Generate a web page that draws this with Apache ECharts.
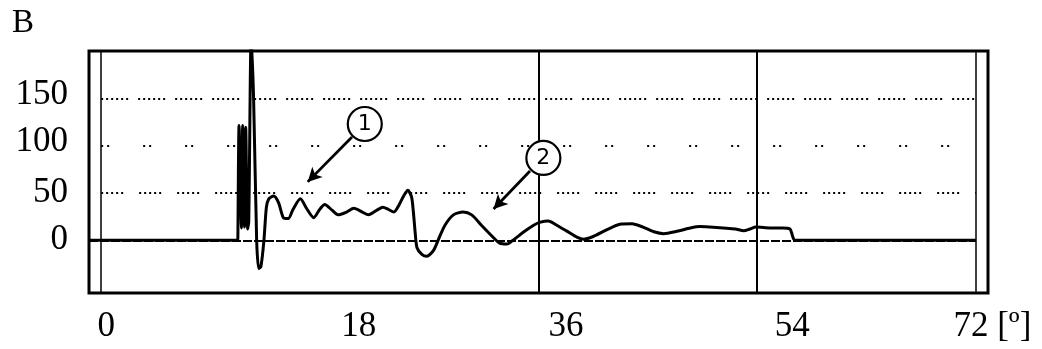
<!DOCTYPE html>
<html>
<head>
<meta charset="utf-8">
<script src="https://cdn.jsdelivr.net/npm/echarts@6/dist/echarts.min.js"></script>
<style>
  html, body { margin: 0; padding: 0; background: #fff; }
  #chart { width: 1042px; height: 349px; }
</style>
</head>
<body>
<div id="chart"></div>
<script>
// Recorded trace: angle in degrees, amplitude in B units
const angle = [
  -1, 11.25, 11.3, 11.35, 11.55, 11.65, 11.8, 11.9, 12.05, 12.15, 12.35, 12.55, 12.8, 12.97, 13.15, 13.4, 13.6, 13.8,
  14.2, 14.6, 15.0, 15.4, 15.8, 16.4, 16.9, 17.5, 18.0, 18.4, 19.0, 19.5, 20.2, 20.8, 21.5,
  22.0, 22.7, 23.2, 23.6, 24.1, 24.5, 24.9, 25.25, 25.55, 25.7, 25.85, 26.0, 26.4, 26.8, 27.35,
  27.8, 28.3, 29.0, 29.8, 30.5, 31.3, 32.2, 32.8, 33.4, 33.9, 34.8, 35.6, 36.1, 36.8, 37.5,
  38.3, 39.2, 39.7, 40.5, 41.6, 42.7, 43.7, 44.6, 45.5, 46.3, 47.4, 48.5, 49.3, 50.1, 51.2,
  52.2, 52.9, 53.4, 53.9, 55.1, 56.1, 56.7, 56.9, 57.1, 72
];
const amplitude = [
  0, 0, 0, 122, 13, 122, 14, 120, 12, 20, 215, 150, 0, -30, -28, 0, 35, 44,
  47, 40, 24, 23, 33, 44, 34, 24, 33, 38, 32, 27, 30, 34, 30,
  27, 32, 35, 33, 30, 37, 47, 53, 46, 30, 8, -8, -15, -17, -11,
  2, 16, 27, 30, 27, 16, 4, -3, -4, 0, 9, 16, 19, 20.5, 16,
  10, 3, 1, 4, 11, 17, 17.5, 14, 9, 7, 9.5, 13, 14.5, 14, 13,
  12, 10, 12, 14, 13, 13, 12, 5, 0, 0
];

// Axis ticks
const xTicks = [0, 18, 36, 54, 72];
const yTicks = [0, 50, 100, 150];
const xUnit = '[º]';

// Reference lines of the scope screen
const verticalLines = [0, 36, 54, 72];
const levelLines = [50, 100, 150];

// Callouts: label, circle centre, arrow start, arrow tip
const calloutLabels = ['1', '2'];
const calloutCentres = [[21.7, 123.5], [36.4, 87.4]];
const arrowStarts = [[20.65, 109.7], [35.3, 73.6]];
const arrowTips = [[17.0, 62], [32.3, 33.2]];

const serif = '"Liberation Serif", "Times New Roman", serif';
const ink = '#000';

// Label nudges (px) for the printed scale under the frame
const xLabelPad = { 0: 10, 18: 78, 36: 55, 54: 70, 72: 33 };
const yLabelPad = { 0: 0, 50: 0, 100: 8, 150: 8 };

const xRich = {};
xTicks.forEach(function (t) {
  xRich['x' + t] = { fontFamily: serif, fontSize: 35, color: ink, padding: [0, 0, 0, xLabelPad[t]] };
});
const yRich = {};
yTicks.forEach(function (t) {
  yRich['y' + t] = { fontFamily: serif, fontSize: 35, color: ink, padding: [0, 0, yLabelPad[t], 0] };
});

const dotPatterns = {
  50: [2, 3, 2, 3, 2, 3, 2, 3, 2, 16],
  100: [2, 4, 2, 34],
  150: [2, 3, 2, 3, 2, 3, 2, 3, 2, 3, 2, 10]
};

const chart = echarts.init(document.getElementById('chart'), null, { renderer: 'canvas' });

chart.setOption({
  animation: false,
  backgroundColor: '#fff',
  title: {
    text: 'B',
    left: 7,
    top: 2,
    textStyle: { fontFamily: serif, fontSize: 33, fontWeight: 'normal', color: ink }
  },
  grid: {
    left: 89, right: 54, top: 51, bottom: 56,
    show: true, borderColor: ink, borderWidth: 3, backgroundColor: 'transparent'
  },
  xAxis: {
    type: 'value', min: -1, max: 73,
    axisLine: { show: false }, axisTick: { show: false }, splitLine: { show: false },
    axisLabel: {
      customValues: xTicks,
      margin: 16,
      formatter: function (v) {
        const txt = v === 72 ? v + ' ' + xUnit : String(v);
        return '{x' + v + '|' + txt + '}';
      },
      rich: xRich
    }
  },
  yAxis: {
    type: 'value', min: -56, max: 201,
    axisLine: { show: false }, axisTick: { show: false }, splitLine: { show: false },
    axisLabel: {
      customValues: yTicks,
      margin: 21,
      formatter: function (v) { return '{y' + v + '|' + v + '}'; },
      rich: yRich
    }
  },
  series: [
    {
      name: 'screen',
      type: 'line',
      data: [],
      silent: true,
      markLine: {
        silent: true, symbol: 'none', animation: false, z: 1,
        label: { show: false },
        emphasis: { disabled: true },
        data: verticalLines.map(function (v) {
          return { xAxis: v, lineStyle: { color: ink, width: v === 0 || v === 72 ? 1.5 : 2, type: 'solid' } };
        }).concat(levelLines.map(function (v) {
          return [
            { coord: [0, v], lineStyle: { color: ink, width: 2, type: dotPatterns[v] } },
            { coord: [72, v] }
          ];
        })).concat([[
          { coord: [-1, 0], lineStyle: { color: ink, width: 2.2, type: [9, 2] } },
          { coord: [72, 0] }
        ]])
      }
    },
    {
      name: 'trace',
      type: 'line',
      z: 3,
      showSymbol: false,
      silent: true,
      clip: true,
      smooth: 0.25,
      data: angle.map(function (a, i) { return [a, amplitude[i]]; }),
      lineStyle: { color: ink, width: 3, join: 'round' }
    },
    {
      name: 'callouts',
      type: 'line',
      data: [],
      silent: true,
      markLine: {
        silent: true, animation: false, z: 6,
        symbol: ['none', 'arrow'], symbolSize: [11, 14],
        label: { show: false },
        emphasis: { disabled: true },
        lineStyle: { color: ink, width: 2.8, type: 'solid' },
        data: calloutLabels.map(function (_, i) {
          return [{ coord: arrowStarts[i] }, { coord: arrowTips[i] }];
        })
      },
      markPoint: {
        silent: true, animation: false, z: 7,
        symbol: 'circle', symbolSize: 34,
        itemStyle: { color: '#fff', borderColor: ink, borderWidth: 2.2 },
        label: {
          show: true, formatter: '{b}', color: ink,
          fontFamily: '"DejaVu Sans", sans-serif', fontSize: 22, fontWeight: 'normal'
        },
        emphasis: { disabled: true },
        data: calloutLabels.map(function (l, i) {
          return { name: l, coord: calloutCentres[i] };
        })
      }
    }
  ]
});
</script>
</body>
</html>
